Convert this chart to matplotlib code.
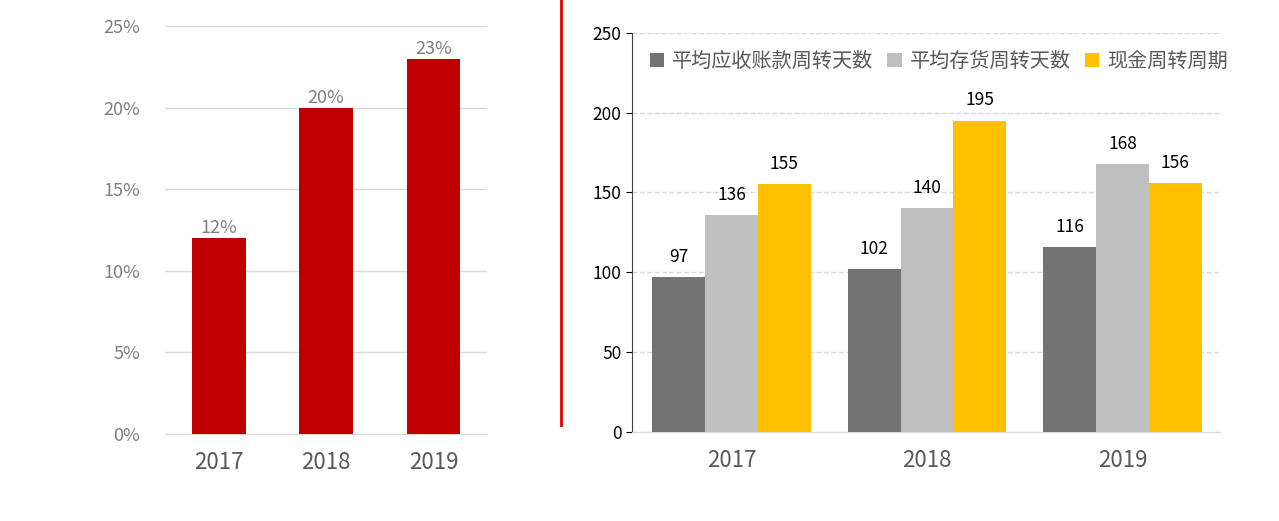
import matplotlib.pyplot as plt
import numpy as np

plt.rcParams['font.family'] = ['Noto Sans CJK JP', 'Noto Sans CJK SC', 'DejaVu Sans']

years = ['2017', '2018', '2019']
margin = [12, 20, 23]

series_names = ['平均应收账款周转天数', '平均存货周转天数', '现金周转周期']
receivable_days = [97, 102, 116]
inventory_days = [136, 140, 168]
cash_cycle = [155, 195, 156]
colors = ['#737373', '#bfbfbf', '#ffc000']

fig = plt.figure(figsize=(12.79, 5.21), dpi=100)

# left chart
ax1 = fig.add_axes([0.129, 0.167, 0.252, 0.783])
x = np.arange(len(years))
ax1.bar(x, margin, width=0.5, color='#c00000', zorder=3)
for xi, v in zip(x, margin):
    ax1.text(xi, v + 0.05, f'{v}%', ha='center', va='bottom', fontsize=13, color='#7f7f7f')
ax1.set_xlim(-0.5, 2.5)
ax1.set_ylim(0, 25)
ax1.set_yticks(range(0, 26, 5))
ax1.set_yticklabels([f'{v}%' for v in range(0, 26, 5)])
ax1.set_xticks(x)
ax1.set_xticklabels(years)
ax1.grid(axis='y', color='#d9d9d9', linewidth=1, zorder=0)
for s in ['top', 'right', 'left']:
    ax1.spines[s].set_visible(False)
ax1.spines['bottom'].set_color('#d9d9d9')
ax1.tick_params(axis='y', length=0, labelsize=13, labelcolor='#7f7f7f', pad=18)
ax1.tick_params(axis='x', length=0, labelsize=16, labelcolor='#595959', pad=12)

# red divider
fig.add_artist(plt.Line2D([561 / 1279, 561 / 1279], [96 / 521, 1.0], color='#e00000', linewidth=2))

# right chart
ax2 = fig.add_axes([0.494, 0.171, 0.460, 0.766])
w = 0.27
for i, (vals, c, name) in enumerate(zip([receivable_days, inventory_days, cash_cycle], colors, series_names)):
    pos = x + (i - 1) * w
    ax2.bar(pos, vals, width=w, color=c, label=name, zorder=3)
    for p, v in zip(pos, vals):
        ax2.text(p, v + 7, str(v), ha='center', va='bottom', fontsize=12.5, color='black')
ax2.set_xlim(-0.51, 2.5)
ax2.set_ylim(0, 250)
ax2.set_yticks(range(0, 251, 50))
ax2.set_xticks(x)
ax2.set_xticklabels(years)
ax2.grid(axis='y', color='#d9d9d9', linestyle='--', linewidth=1, zorder=0)
for s in ['top', 'right']:
    ax2.spines[s].set_visible(False)
ax2.spines['bottom'].set_color('#d9d9d9')
ax2.spines['left'].set_color('#404040')
ax2.tick_params(axis='y', length=4, labelsize=12.5, labelcolor='black')
ax2.tick_params(axis='x', length=0, labelsize=16, labelcolor='#595959', pad=12)
ax2.legend(loc='upper left', bbox_to_anchor=(0.0, 1.0), ncol=3, frameon=False,
           fontsize=14.5, labelcolor='#595959', handlelength=0.7, handleheight=0.7,
           handletextpad=0.4, columnspacing=0.7)

fig.savefig('out.png', dpi=100)
